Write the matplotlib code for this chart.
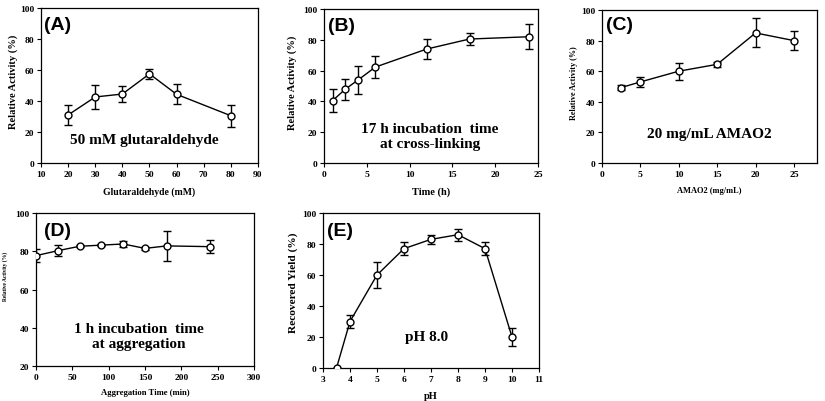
import matplotlib
matplotlib.use("Agg")
import matplotlib.pyplot as plt

# ---- data ----
glut_conc = [20, 30, 40, 50, 60, 80]
glut_act = [31, 42.6, 44.5, 57.5, 44.3, 30.5]
glut_err = [6.5, 8.0, 5.0, 3.0, 6.5, 7.0]

time_h = [1, 2.5, 4, 6, 12, 17, 24]
time_act = [40.5, 48, 54, 62.3, 74, 80.5, 82]
time_err = [7.7, 6.8, 9.2, 7.0, 6.5, 4.0, 8.0]

amao_conc = [2.5, 5, 10, 15, 20, 25]
amao_act = [49.3, 53, 60, 64.5, 85, 80]
amao_err = [1.5, 3.5, 5.5, 1.5, 9.5, 6.0]

agg_time = [0, 30, 60, 90, 120, 150, 180, 240]
agg_act = [77.7, 80.3, 82.6, 83.2, 83.8, 81.5, 82.8, 82.4]
agg_err = [3.5, 3.0, 0.6, 0.5, 1.5, 0.6, 7.7, 3.4]

ph_vals = [3.5, 4, 5, 6, 7, 8, 9, 10]
ph_yield = [0, 30, 60, 77, 83, 86, 77, 20]
ph_err = [0, 4, 8.7, 4, 3, 4, 4, 6]

panel_labels = ["(A)", "(B)", "(C)", "(D)", "(E)"]
x_labels = ["Glutaraldehyde (mM)", "Time (h)", "AMAO2 (mg/mL)",
            "Aggregation Time (min)", "pH"]
y_labels = ["Relative Activity (%)", "Relative Activity (%)",
            "Relative Activity (%)", "Relative Activity (%)",
            "Recovered Yield (%)"]
notes = ["50 mM glutaraldehyde", "17 h incubation  time\nat cross-linking",
         "20 mg/mL AMAO2", "1 h incubation  time\nat aggregation", "pH 8.0"]

W, H = 825, 402
fig = plt.figure(figsize=(W / 100, H / 100), dpi=100)

def ax_px(l, r, t, b):
    return fig.add_axes([l / W, 1 - b / H, (r - l) / W, (b - t) / H])

serif = "Liberation Serif"
sans = "Liberation Sans"

panels = [
    dict(box=(41, 258, 9, 164), x=glut_conc, y=glut_act, e=glut_err,
         xlim=(10, 90), xt=range(10, 91, 10), ylim=(0, 100), yt=range(0, 101, 20),
         note_pos=(0.475, 0.15), lab_pos=(0.013, 0.895), xls=7, yls=7.6,
         xlc=-0.18, ylc=(-0.129, 0.53)),
    dict(box=(324, 538, 10, 164), x=time_h, y=time_act, e=time_err,
         xlim=(0, 25), xt=range(0, 26, 5), ylim=(0, 100), yt=range(0, 101, 20),
         note_pos=(0.495, 0.175), lab_pos=(0.018, 0.895), xls=7.5, yls=7.6,
         xlc=-0.182, ylc=(-0.15, 0.53)),
    dict(box=(602, 817, 11, 164), x=amao_conc, y=amao_act, e=amao_err,
         xlim=(0, 28), xt=range(0, 26, 5), ylim=(0, 100), yt=range(0, 101, 20),
         note_pos=(0.50, 0.196), lab_pos=(0.02, 0.905), xls=6, yls=5.9,
         xlc=-0.176, ylc=(-0.13, 0.53)),
    dict(box=(36, 254, 214, 367), x=agg_time, y=agg_act, e=agg_err,
         xlim=(0, 300), xt=range(0, 301, 50), ylim=(20, 100), yt=range(20, 101, 20),
         note_pos=(0.47, 0.196), lab_pos=(0.035, 0.887), xls=6.2, yls=4.0,
         xlc=-0.17, ylc=(-0.142, 0.59)),
    dict(box=(323, 539, 214, 369), x=ph_vals, y=ph_yield, e=ph_err,
         xlim=(3, 11), xt=range(3, 12, 1), ylim=(0, 100), yt=range(0, 101, 20),
         note_pos=(0.48, 0.206), lab_pos=(0.02, 0.888), xls=7.5, yls=8.2,
         xlc=-0.18, ylc=(-0.139, 0.555)),
]

for i, p in enumerate(panels):
    ax = ax_px(*p["box"])
    ax.errorbar(p["x"], p["y"], yerr=p["e"], color="black", lw=1.0,
                marker="o", ms=5, mfc="white", mec="black", mew=1.0,
                capsize=2.6, capthick=1.0, elinewidth=1.0, zorder=3)
    ax.set_xlim(*p["xlim"])
    ax.set_ylim(*p["ylim"])
    ax.set_xticks(list(p["xt"]))
    ax.set_yticks(list(p["yt"]))
    for lbl in ax.get_xticklabels() + ax.get_yticklabels():
        lbl.set_fontfamily(serif)
        lbl.set_fontweight("bold")
        lbl.set_fontsize(6.8)
    ax.tick_params(direction="out", length=3, width=0.8, pad=2,
                   top=False, right=False)
    for s in ax.spines.values():
        s.set_linewidth(0.9)
    ax.set_xlabel(x_labels[i], fontfamily=serif, fontweight="bold",
                  fontsize=p["xls"])
    ax.set_ylabel(y_labels[i], fontfamily=serif, fontweight="bold",
                  fontsize=p["yls"])
    ax.xaxis.set_label_coords(0.5, p["xlc"])
    ax.yaxis.set_label_coords(*p["ylc"])
    ax.xaxis.label.set_verticalalignment("center")
    ax.yaxis.label.set_verticalalignment("center")
    ax.text(p["note_pos"][0], p["note_pos"][1], notes[i], transform=ax.transAxes,
            ha="center", va="center", fontfamily=serif, fontweight="bold",
            fontsize=11, linespacing=1.15)
    ax.text(p["lab_pos"][0], p["lab_pos"][1], panel_labels[i], transform=ax.transAxes,
            ha="left", va="center", fontfamily=sans, fontweight="bold", fontsize=14)

fig.savefig("out.png", dpi=100)
